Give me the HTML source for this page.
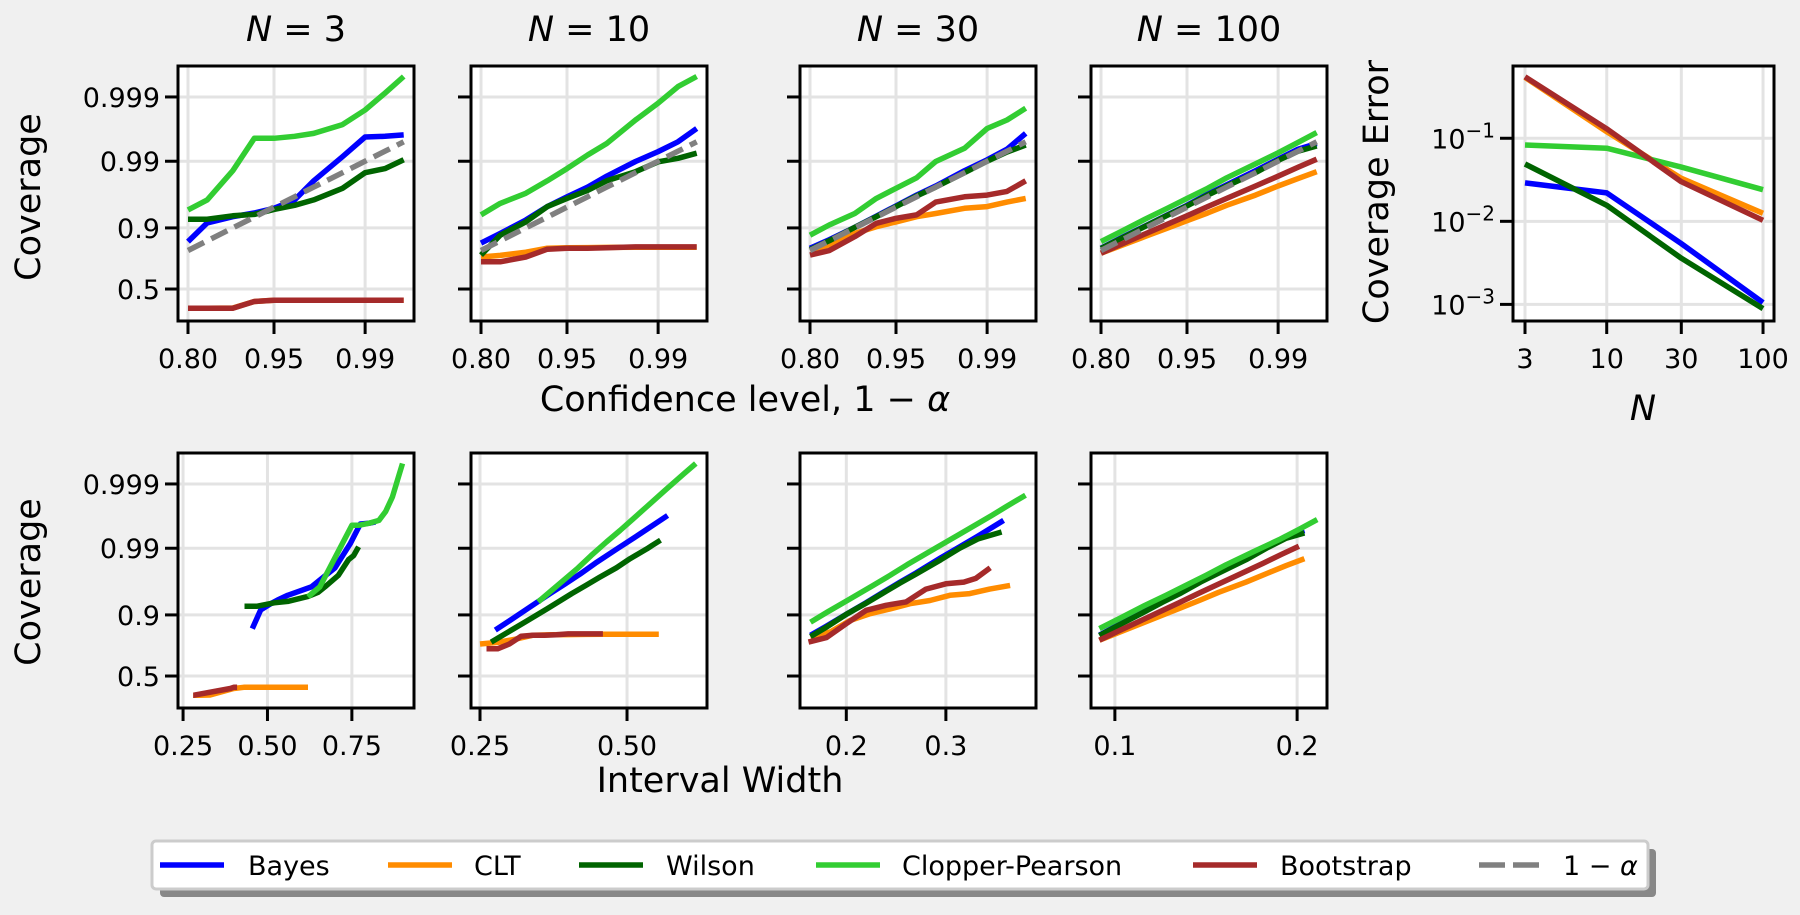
<!DOCTYPE html>
<html><head><meta charset="utf-8">
<style>
html,body{margin:0;padding:0;background:#f0f0f0;}
svg{display:block;font-family:"DejaVu Sans","Liberation Sans",sans-serif;}
</style></head>
<body>
<svg id="fig" width="1800" height="915" viewBox="0 0 1800 915" xmlns="http://www.w3.org/2000/svg">
<rect width="1800" height="915" fill="#f0f0f0"/>
</svg>
<script>
// ---- data ----
const methods = ["Bayes","CLT","Wilson","Clopper-Pearson","Bootstrap"];
const colors = ["#0000ff","#ff8c00","#006400","#32cd32","#a52a2a"];
const Ns = [3,10,30,100];
const levels = [0.80,0.85,0.90,0.93,0.95,0.965,0.975,0.985,0.99,0.993,0.995];
const covN3_Bayes = [0.846,0.915,0.931,0.939,0.948,0.961,0.980,0.9915,0.9958,0.9959,0.9961];
const covN3_CLT = [0.334,0.334,0.336,0.39,0.40,0.40,0.40,0.40,0.40,0.40,0.40];
const covN3_Wilson = [0.925,0.925,0.933,0.936,0.946,0.953,0.961,0.974,0.985,0.987,0.9905];
const covN3_CP = [0.945,0.961,0.986,0.9956,0.9956,0.9959,0.9963,0.9973,0.9984,0.99913,0.99952];
const covN3_Boot = [0.334,0.334,0.334,0.39,0.40,0.40,0.40,0.40,0.40,0.40,0.40];
const covN10_Bayes = [0.839,0.881,0.923,0.951,0.965,0.975,0.983,0.9899,0.9929,0.995,0.9969];
const covN10_CLT = [0.76,0.77,0.79,0.813,0.815,0.816,0.817,0.818,0.818,0.818,0.818];
const covN10_Wilson = [0.772,0.874,0.918,0.951,0.963,0.972,0.980,0.9855,0.9898,0.991,0.9925];
const covN10_CP = [0.935,0.956,0.969,0.980,0.987,0.992,0.9947,0.99771,0.99875,0.99931,0.99952];
const covN10_Boot = [0.727,0.727,0.76,0.807,0.813,0.813,0.815,0.82,0.82,0.82,0.82];
const covN30_Bayes = [0.812,0.855,0.902,0.932,0.952,0.967,0.976,0.986,0.9905,0.9935,0.9963];
const covN30_CLT = [0.802,0.83,0.881,0.904,0.918,0.931,0.938,0.948,0.951,0.958,0.963];
const covN30_Wilson = [0.805,0.85,0.902,0.931,0.951,0.966,0.975,0.985,0.99,0.9928,0.9944];
const covN30_CP = [0.874,0.909,0.938,0.963,0.974,0.982,0.9899,0.9937,0.9969,0.99771,0.9985];
const covN30_Boot = [0.772,0.799,0.868,0.914,0.927,0.935,0.958,0.965,0.967,0.971,0.980];
const covN100_Bayes = [0.813,0.861,0.907,0.935,0.953,0.968,0.977,0.986,0.9907,0.9935,0.9947];
const covN100_CLT = [0.784,0.825,0.870,0.899,0.921,0.939,0.953,0.967,0.976,0.9815,0.9855];
const covN100_Wilson = [0.811,0.859,0.906,0.934,0.952,0.967,0.976,0.985,0.9903,0.993,0.9942];
const covN100_CP = [0.846,0.886,0.926,0.948,0.963,0.974,0.982,0.989,0.9926,0.9949,0.9964];
const covN100_Boot = [0.784,0.831,0.880,0.911,0.933,0.951,0.963,0.976,0.983,0.9876,0.9907];
const widN3_Bayes = [0.455,0.48,0.51,0.53,0.56,0.63,0.70,0.745,0.775,0.80,0.82];
const widN3_CLT = [0.28,0.30,0.33,0.40,0.43,0.47,0.50,0.53,0.56,0.59,0.62];
const widN3_Wilson = [0.432,0.47,0.52,0.56,0.62,0.65,0.67,0.71,0.74,0.755,0.77];
const widN3_CP = [0.62,0.655,0.70,0.75,0.77,0.80,0.83,0.85,0.87,0.885,0.90];
const widN3_Boot = [0.28,0.281,0.282,0.39,0.40,0.402,0.404,0.406,0.408,0.409,0.41];
const widN10_Bayes = [0.276,0.301,0.335,0.369,0.395,0.420,0.446,0.484,0.510,0.535,0.569];
const widN10_CLT = [0.25,0.28,0.31,0.34,0.37,0.40,0.43,0.46,0.49,0.52,0.554];
const widN10_Wilson = [0.269,0.326,0.364,0.406,0.430,0.453,0.482,0.505,0.534,0.543,0.557];
const widN10_CP = [0.349,0.372,0.392,0.417,0.439,0.465,0.488,0.533,0.565,0.597,0.617];
const widN10_Boot = [0.261,0.28,0.30,0.32,0.34,0.36,0.38,0.40,0.42,0.44,0.459];
const widN30_Bayes = [0.164,0.179,0.200,0.219,0.236,0.254,0.270,0.295,0.314,0.332,0.358];
const widN30_CLT = [0.164,0.184,0.204,0.224,0.244,0.264,0.284,0.304,0.324,0.344,0.3645];
const widN30_Wilson = [0.164,0.179,0.200,0.219,0.236,0.254,0.270,0.295,0.314,0.332,0.356];
const widN30_CP = [0.164,0.181,0.201,0.227,0.244,0.261,0.289,0.312,0.346,0.360,0.380];
const widN30_Boot = [0.162,0.18,0.2,0.22,0.24,0.26,0.28,0.30,0.318,0.33,0.3445];
const widN100_Bayes = [0.0915,0.1015,0.115,0.126,0.1364,0.147,0.157,0.172,0.184,0.194,0.204];
const widN100_CLT = [0.0915,0.1015,0.115,0.126,0.1364,0.147,0.157,0.172,0.184,0.194,0.204];
const widN100_Wilson = [0.0915,0.1015,0.115,0.126,0.1364,0.147,0.157,0.172,0.184,0.194,0.204];
const widN100_CP = [0.0915,0.102,0.116,0.128,0.139,0.150,0.161,0.177,0.190,0.201,0.211];
const widN100_Boot = [0.0915,0.1012,0.1143,0.1252,0.1352,0.1456,0.1553,0.1699,0.1814,0.1915,0.201];
const errBayes = [0.029,0.022,0.0054,0.00105];
const errCLT = [0.54,0.12,0.033,0.0125];
const errWilson = [0.049,0.0156,0.0036,0.00089];
const errCP = [0.083,0.076,0.045,0.024];
const errBoot = [0.55,0.13,0.03,0.0103];
const covTicks = [0.5,0.9,0.99,0.999];
const covTickLabels = ["0.5","0.9","0.99","0.999"];
const levelTicks = [0.80,0.95,0.99];
const levelTickLabels = ["0.80","0.95","0.99"];
const widthTicks = [[0.25,0.50,0.75],[0.25,0.50],[0.2,0.3],[0.1,0.2]];
const widthTickLabels = [["0.25","0.50","0.75"],["0.25","0.50"],["0.2","0.3"],["0.1","0.2"]];
const errTicks = [0.1,0.01,0.001];
const errTickExp = ["−1","−2","−3"];

const cov = [[covN3_Bayes,covN3_CLT,covN3_Wilson,covN3_CP,covN3_Boot],
 [covN10_Bayes,covN10_CLT,covN10_Wilson,covN10_CP,covN10_Boot],
 [covN30_Bayes,covN30_CLT,covN30_Wilson,covN30_CP,covN30_Boot],
 [covN100_Bayes,covN100_CLT,covN100_Wilson,covN100_CP,covN100_Boot]];
const wid = [[widN3_Bayes,widN3_CLT,widN3_Wilson,widN3_CP,widN3_Boot],
 [widN10_Bayes,widN10_CLT,widN10_Wilson,widN10_CP,widN10_Boot],
 [widN30_Bayes,widN30_CLT,widN30_Wilson,widN30_CP,widN30_Boot],
 [widN100_Bayes,widN100_CLT,widN100_Wilson,widN100_CP,widN100_Boot]];
const errs = [errBayes,errCLT,errWilson,errCP,errBoot];

// ---- layout ----
const svg = document.getElementById('fig');
const NS = "http://www.w3.org/2000/svg";
const LW = 5.5;
function mk(tag, attrs, parent){const e=document.createElementNS(NS,tag);for(const k in attrs)e.setAttribute(k,attrs[k]);(parent||svg).appendChild(e);return e;}
const logit = p => Math.log(p/(1-p));
const panelX = [178,471,800,1091];
const PW = 236;
const topY = 66, botY = 453, PH = 255;
const xLogitMin = logit(0.80) - 10/55.2, xLogitMax = xLogitMin + PW/55.2;
const yLogitMin = -1.15, yLogitMax = 8.02;
const widthRange = [[0.235,0.934],[0.2347,0.636],[0.1535,0.3905],[0.0869,0.2164]];

function yScale(p, y0){ return y0 + PH - (logit(p)-yLogitMin)/(yLogitMax-yLogitMin)*PH; }
function xLevel(p, x0){ return x0 + (logit(p)-xLogitMin)/(xLogitMax-xLogitMin)*PW; }
function xWidth(w, x0, i){ const r=widthRange[i]; return x0 + (w-r[0])/(r[1]-r[0])*PW; }

function panelBg(x0,y0,name){
  const r = mk('rect',{x:x0,y:y0,width:PW,height:PH,fill:'#fff'});
  
  
}
function frame(x0,y0,w,h){
  const r = mk('rect',{x:x0,y:y0,width:w,height:h,fill:'none',stroke:'#000','stroke-width':3});
  
  
}
function txt(s,x,y,attrs,name){
  const t = mk('text',Object.assign({x:x,y:y,fill:'#000'},attrs||{}));
  t.textContent = s;
  
  
  return t;
}
function clip(id,x0,y0){ const c=mk('clipPath',{id:id}); mk('rect',{x:x0,y:y0,width:PW,height:PH},c); }

for (let row=0; row<2; row++){
  const y0 = row===0?topY:botY;
  for (let i=0;i<4;i++){
    const x0 = panelX[i];
    panelBg(x0,y0,(row===0?'level':'width')+'-panel-N'+Ns[i]);
    clip('c'+row+i,x0,y0);
    const g = mk('g',{'clip-path':'url(#c'+row+i+')'});
    
    
    covTicks.forEach(t=>{const y=yScale(t,y0);const l=mk('line',{x1:x0,x2:x0+PW,y1:y,y2:y,stroke:'#e3e3e3','stroke-width':3},g);
      });
    const xt = row===0?levelTicks:widthTicks[i];
    const xpos = v => row===0?xLevel(v,x0):xWidth(v,x0,i);
    xt.forEach(t=>{const x=xpos(t);const l=mk('line',{x1:x,x2:x,y1:y0,y2:y0+PH,stroke:'#e3e3e3','stroke-width':3},g);
      });
    for (let m=0;m<5;m++){
      const pts = levels.map((lv,k)=>[row===0?xLevel(lv,x0):xWidth(wid[i][m][k],x0,i), yScale(cov[i][m][k],y0)]);
      const d = pts.map((p,k)=>(k?'L':'M')+p[0].toFixed(1)+' '+p[1].toFixed(1)).join(' ');
      const e = mk('path',{d:d,fill:'none',stroke:colors[m],'stroke-width':LW,'stroke-linejoin':'round'},g);
      
      
    }
    if (row===0){
      const pts = levels.map(lv=>[xLevel(lv,x0), yScale(lv,y0)]);
      const d = pts.map((p,k)=>(k?'L':'M')+p[0].toFixed(1)+' '+p[1].toFixed(1)).join(' ');
      const e = mk('path',{d:d,fill:'none',stroke:'#808080','stroke-width':LW,'stroke-dasharray':'18 8'},g);
      
      
    }
    frame(x0,y0,PW,PH);
    covTicks.forEach((t,k)=>{const y=yScale(t,y0);
      const l=mk('line',{x1:x0-13,x2:x0,y1:y,y2:y,stroke:'#000','stroke-width':3});
      
      if(i===0) txt(covTickLabels[k],x0-18,y+10,{'text-anchor':'end','font-size':27},'y-tick-label');
    });
    const xl = row===0?levelTickLabels:widthTickLabels[i];
    xt.forEach((t,k)=>{const x=xpos(t);
      const l=mk('line',{x1:x,x2:x,y1:y0+PH,y2:y0+PH+13,stroke:'#000','stroke-width':3});
      
      txt(xl[k],x,y0+PH+47,{'text-anchor':'middle','font-size':27},'x-tick-label');
    });
    if(row===0){
      const t=txt('',x0+PW/2,41,{'text-anchor':'middle','font-size':35},'panel-title-N'+Ns[i]);
      t.innerHTML='<tspan font-style="italic">N</tspan> = '+Ns[i];
    }
  }
}
txt('Coverage',40,197,{'text-anchor':'middle','font-size':35,transform:'rotate(-90 40 197)'},'y-axis-title-top');
txt('Coverage',40,582,{'text-anchor':'middle','font-size':35,transform:'rotate(-90 40 582)'},'y-axis-title-bottom');
(function(){const t=txt('',745,411,{'text-anchor':'middle','font-size':35},'x-axis-title-top');
 t.innerHTML='Confidence level, 1 − <tspan font-style="italic">α</tspan>';})();
txt('Interval Width',720,792,{'text-anchor':'middle','font-size':35},'x-axis-title-bottom');

// ---- error panel ----
const EX=1513, EW=261;
const exMin=Math.log10(3)-12/156.3, exMax=exMin+EW/156.3;
const eyMin=-3.2, eyMax=-0.13;
const ex = n => EX + (Math.log10(n)-exMin)/(exMax-exMin)*EW;
const ey = v => topY + PH - (Math.log10(v)-eyMin)/(eyMax-eyMin)*PH;
(function(){
  const r=mk('rect',{x:EX,y:topY,width:EW,height:PH,fill:'#fff'});
  
  const c=mk('clipPath',{id:'ce'});mk('rect',{x:EX,y:topY,width:EW,height:PH},c);
  const g=mk('g',{'clip-path':'url(#ce)'});
  
  errTicks.forEach(t=>{const l=mk('line',{x1:EX,x2:EX+EW,y1:ey(t),y2:ey(t),stroke:'#e3e3e3','stroke-width':3},g);
    });
  Ns.forEach(n=>{const l=mk('line',{x1:ex(n),x2:ex(n),y1:topY,y2:topY+PH,stroke:'#e3e3e3','stroke-width':3},g);
    });
  for(let m=0;m<5;m++){
    const d=Ns.map((n,k)=>(k?'L':'M')+ex(n).toFixed(1)+' '+ey(errs[m][k]).toFixed(1)).join(' ');
    const e=mk('path',{d:d,fill:'none',stroke:colors[m],'stroke-width':LW,'stroke-linejoin':'round'},g);
    
    
  }
  frame(EX,topY,EW,PH);
  errTicks.forEach((t,k)=>{const y=ey(t);
    const l=mk('line',{x1:EX-13,x2:EX,y1:y,y2:y,stroke:'#000','stroke-width':3});
    
    const tt=txt('',EX-18,y+10,{'text-anchor':'end','font-size':27},'error-y-tick-label');
    tt.innerHTML='10<tspan dy="-11" font-size="20">'+errTickExp[k]+'</tspan>';
  });
  Ns.forEach(n=>{const x=ex(n);
    const l=mk('line',{x1:x,x2:x,y1:topY+PH,y2:topY+PH+13,stroke:'#000','stroke-width':3});
    
    txt(String(n),x,topY+PH+47,{'text-anchor':'middle','font-size':27},'error-x-tick-label');
  });
  txt('Coverage Error',1388,192,{'text-anchor':'middle','font-size':35,transform:'rotate(-90 1388 192)'},'error-y-axis-title');
  txt('N',1643,420,{'text-anchor':'middle','font-size':35,'font-style':'italic'},'error-x-axis-title');
})();

// ---- legend ----
(function(){
  const g=mk('g',{});
  
  const s=mk('rect',{x:160,y:849,width:1496,height:48,rx:4,fill:'#888'},g);
  
  const b=mk('rect',{x:152,y:841,width:1496,height:48,rx:4,fill:'#fff',stroke:'#cccccc','stroke-width':3},g);
  
  const lx=[160,388,579,816,1193,1479];
  const tx=[248,474,666,902,1280,1563];
  const labels=["Bayes","CLT","Wilson","Clopper-Pearson","Bootstrap","1 − α"];
  for(let k=0;k<6;k++){
    const l=mk('line',{x1:lx[k],x2:lx[k]+64,y1:865,y2:865,stroke:k<5?colors[k]:'#808080','stroke-width':LW,'stroke-dasharray':k<5?'none':'26 8'},g);
    
    const t=mk('text',{x:tx[k],y:875,'font-size':27,fill:'#000'},g);
    if(k<5) t.textContent=labels[k]; else t.innerHTML='1 − <tspan font-style="italic">α</tspan>';
    
  }
})();
</script>
</body></html>
